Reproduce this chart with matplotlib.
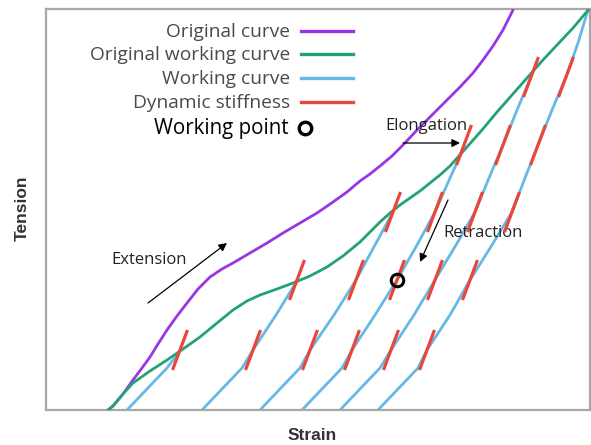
import numpy as np
import matplotlib
matplotlib.use("Agg")
import matplotlib.pyplot as plt
from matplotlib.lines import Line2D

# ---- data (arbitrary units: strain 0..544, tension 0..401) ----
orig_x = [62, 67, 77, 87, 96, 104, 112, 121, 131, 141, 152, 164, 176, 187, 204, 221, 237, 254,
          271, 287, 301, 314, 324, 334, 346, 357, 372, 387, 401, 414, 427, 437, 447, 457, 467]
orig_y = [0, 4, 16, 30, 42, 53, 66, 80, 94, 107, 121, 133, 141, 147, 157, 167, 177, 187,
          197, 208, 218, 229, 236, 244, 254, 265, 281, 296, 310, 323, 337, 350, 364, 380, 400]

owork_x = [62, 67, 77, 87, 104, 121, 137, 154, 171, 187, 201, 214, 231, 247, 264, 281, 297, 314, 324,
           334, 344, 354, 364, 374, 384, 394, 404, 412, 421, 436, 451, 466, 481, 496, 511, 527, 543]
owork_y = [0, 4, 16, 27, 39, 50, 61, 73, 87, 100, 109, 115, 121, 127, 134, 143, 154, 168, 178,
           188, 197, 205, 212, 219, 227, 235, 244, 253, 263, 280, 298, 315, 332, 349, 365, 382, 401]

work_levels = [0, 20, 42, 60, 95, 130, 165, 198, 232, 265, 300, 333, 367, 400]
work_x = [
    [81, 100, 121, 134],
    [156, 175, 196, 207, 230, 251],
    [214, 233, 254, 264, 288, 310, 329, 347],
    [256, 275, 296, 306, 329, 351, 371, 389, 404, 418],
    [294, 313, 334, 345, 368, 389, 410, 429, 443, 457, 471, 485],
    [332, 351, 372, 381, 404, 424, 446, 466, 479, 492, 506, 520, 532, 542],
]
work_end = [59, 129, 198, 263, 333, 400]   # tension where each working curve ends

stiff_levels = [60, 130, 198, 265, 333]
stiff_dx, stiff_dy = 7.5, 20          # half extent of a stiffness mark
working_point = (351, 130)             # on 4th working curve

legend_labels = ["Original curve", "Original working curve", "Working curve", "Dynamic stiffness"]
C_PURPLE = "#9a35e6"
C_GREEN = "#23a277"
C_BLUE = "#64b9e6"
C_RED = "#e8473a"

W, H = 591, 445
fig = plt.figure(figsize=(W / 100, H / 100), dpi=100)
ax = fig.add_axes([46 / W, 1 - 410 / H, 544 / W, 401 / H])
ax.set_xlim(0, 544)
ax.set_ylim(0, 401)
ax.set_xticks([])
ax.set_yticks([])
for s in ax.spines.values():
    s.set_color("#a8a8a8")
    s.set_linewidth(1.6)

lw = 2.0
kw = dict(lw=lw, solid_joinstyle="round", solid_capstyle="round")
ax.plot(orig_x, orig_y, color=C_PURPLE, zorder=3, **kw)
ax.plot(owork_x, owork_y, color=C_GREEN, zorder=3, **kw)
for xs, yend in zip(work_x, work_end):
    ys = list(work_levels[:len(xs)])
    ys[-1] = yend
    ax.plot(xs, ys, color=C_BLUE, zorder=2, **kw)
    for lev in stiff_levels:
        if lev <= ys[-1] + 3:
            cx = np.interp(lev, ys, xs)
            ax.plot([cx - stiff_dx, cx + stiff_dx], [lev - stiff_dy, lev + stiff_dy],
                    color=C_RED, lw=lw + 0.3, zorder=4, solid_capstyle="butt")

ax.plot([working_point[0]], [working_point[1]], marker="o", ms=9, mfc="none",
        mec="black", mew=2.2, zorder=5)

# annotations
afont = dict(family="Open Sans", fontsize=12, color="#222222")
arrowprops = dict(arrowstyle="-|>", color="black", lw=0.9, mutation_scale=12, shrinkA=0, shrinkB=0)
ax.annotate("", xy=(181, 167), xytext=(102, 107), arrowprops=arrowprops)
ax.text(65, 150, "Extension", ha="left", va="center", **afont)
ax.annotate("", xy=(414, 267), xytext=(357, 267), arrowprops=arrowprops)
ax.text(339, 284, "Elongation", ha="left", va="center", **afont)
ax.annotate("", xy=(374, 148), xytext=(402, 210), arrowprops=arrowprops)
ax.text(397, 177, "Retraction", ha="left", va="center", **afont)

# legend drawn manually (right-aligned labels, handles on the right)
def fx(px):
    return px / W

def fy(py):
    return 1 - py / H

rows = [32, 55, 79, 103]
colors = [C_PURPLE, C_GREEN, C_BLUE, C_RED]
for lab, r, c in zip(legend_labels, rows, colors):
    fig.text(fx(290), fy(r), lab, ha="right", va="center", family="Open Sans",
             fontsize=13.8, color="#4a4a4a")
    fig.add_artist(Line2D([fx(301), fx(353)], [fy(r - 1), fy(r - 1)], color=c, lw=2.4))
fig.text(fx(289), fy(128), "Working point", ha="right", va="center", family="Open Sans",
         fontsize=14.8, color="black")
fig.add_artist(Line2D([fx(305)], [fy(128)], marker="o", ms=9, mfc="none", mec="black", mew=2.4))

# axis labels
fig.text(fx(22), fy(208), "Tension", rotation=90, ha="center", va="center",
         family="Liberation Sans", fontweight="bold", fontsize=12.5, color="#333333")
fig.text(fx(312), fy(435), "Strain", ha="center", va="center",
         family="Liberation Sans", fontweight="bold", fontsize=12.5, color="#333333")

fig.savefig("out.png", dpi=100)
